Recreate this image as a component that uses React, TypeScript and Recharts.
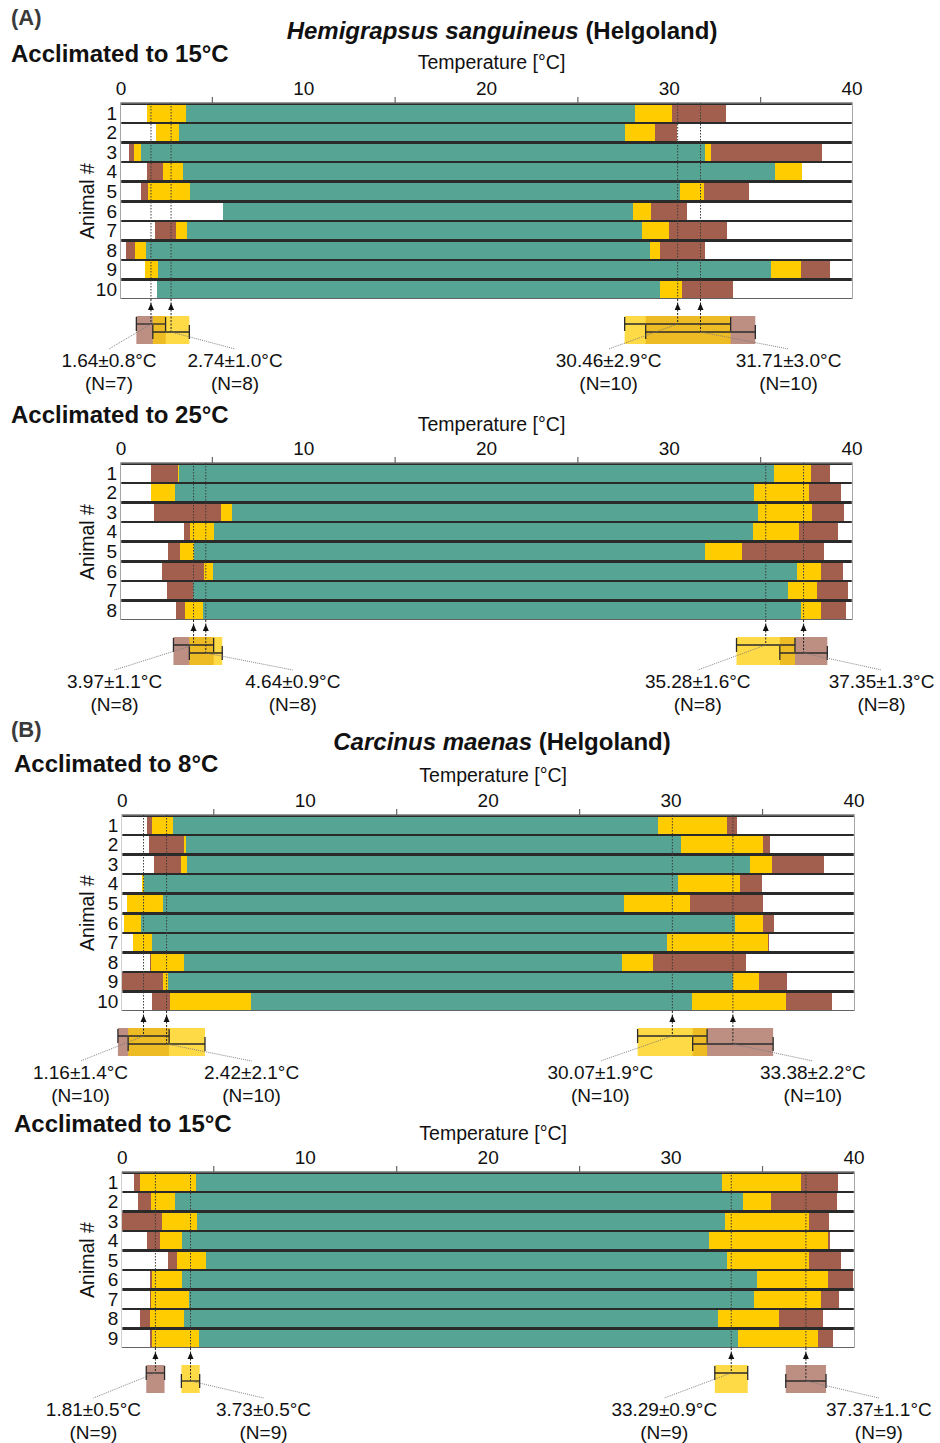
import type { ReactNode } from 'react'
import {
  Bar,
  BarChart,
  CartesianGrid,
  ComposedChart,
  ErrorBar,
  ReferenceArea,
  ReferenceDot,
  ReferenceLine,
  Scatter,
  XAxis,
  YAxis,
} from 'recharts'

// Temperature (°C) where each colour band changes, one row per animal:
// [brown from, yellow from, green from, green to, yellow to, brown to]
const hs15Bounds = [
  [1.44, 1.44, 3.56, 28.15, 30.16, 33.13],
  [1.9, 1.9, 3.19, 27.57, 29.2, 30.42],
  [0.44, 0.71, 1.08, 31.97, 32.3, 38.37],
  [1.4, 2.3, 3.39, 35.78, 37.27, 37.27],
  [1.09, 1.46, 3.77, 30.58, 31.91, 34.37],
  [5.6, 5.6, 5.6, 27.99, 28.99, 30.96],
  [1.86, 2.99, 3.59, 28.5, 30.0, 33.17],
  [0.27, 0.75, 1.39, 28.97, 29.49, 31.97],
  [1.3, 1.3, 2.01, 35.56, 37.2, 38.79],
  [1.99, 1.99, 1.99, 29.49, 30.69, 33.48],
]
const hs25Bounds = [
  [1.64, 3.1, 3.19, 35.72, 37.78, 38.79],
  [1.62, 1.62, 2.95, 34.63, 37.64, 39.42],
  [1.82, 5.45, 6.07, 34.83, 37.82, 39.57],
  [3.46, 3.77, 5.09, 34.56, 37.09, 39.21],
  [2.55, 3.24, 4.01, 31.97, 33.97, 38.46],
  [2.22, 4.52, 5.05, 36.98, 38.29, 39.53],
  [2.5, 3.96, 3.96, 36.5, 38.11, 39.79],
  [2.99, 3.48, 4.49, 37.2, 38.29, 39.66],
]
const cm8Bounds = [
  [1.33, 1.62, 2.79, 29.31, 33.08, 33.63],
  [1.48, 3.36, 3.47, 30.55, 35.01, 35.4],
  [1.73, 3.21, 3.55, 34.32, 35.5, 38.37],
  [1.06, 1.1, 1.17, 30.4, 33.77, 34.96],
  [0.27, 0.27, 2.23, 27.45, 31.02, 35.05],
  [0.09, 0.09, 1.04, 33.5, 35.05, 35.65],
  [0.57, 0.57, 1.61, 29.8, 35.3, 35.37],
  [1.51, 1.55, 3.36, 27.3, 29.03, 34.1],
  [0.0, 2.24, 2.52, 33.39, 34.83, 36.32],
  [1.61, 2.59, 7.04, 31.13, 36.27, 38.82],
]
const cm15Bounds = [
  [0.66, 0.98, 4.03, 32.79, 37.09, 39.15],
  [0.87, 1.57, 2.88, 33.95, 35.48, 39.09],
  [0.0, 2.19, 4.07, 32.93, 37.56, 38.66],
  [1.37, 2.06, 3.28, 32.08, 38.57, 38.69],
  [2.48, 2.97, 4.56, 33.05, 37.54, 39.28],
  [1.53, 1.61, 3.28, 34.69, 38.57, 39.97],
  [1.53, 1.57, 3.63, 34.54, 38.19, 39.17],
  [0.98, 1.53, 3.36, 32.55, 35.89, 38.33],
  [1.53, 1.61, 4.21, 33.68, 38.05, 38.84],
]

// summaries: cold brown, cold yellow, warm yellow, warm brown
const hs15Mean = [1.64, 2.74, 30.46, 31.71]
const hs15Sd = [0.8, 1.0, 2.9, 3.0]
const hs15N = [7, 8, 10, 10]
const hs25Mean = [3.97, 4.64, 35.28, 37.35]
const hs25Sd = [1.1, 0.9, 1.6, 1.3]
const hs25N = [8, 8, 8, 8]
const cm8Mean = [1.16, 2.42, 30.07, 33.38]
const cm8Sd = [1.4, 2.1, 1.9, 2.2]
const cm8N = [10, 10, 10, 10]
const cm15Mean = [1.81, 3.73, 33.29, 37.37]
const cm15Sd = [0.5, 0.5, 0.9, 1.1]
const cm15N = [9, 9, 9, 9]

const tempTicks = [0, 5, 10, 15, 20, 25, 30, 35, 40]

const FONT = '"Liberation Sans", Arial, Helvetica, sans-serif'
const PAGE_W = 940
const PAGE_H = 1443
const AXIS_H = 33
const TICK_W = 50
const SUMMARY_H = 100

const bandKeys = ['below', 'coldBrown', 'coldYellow', 'active', 'warmYellow', 'warmBrown', 'above']
const bandColors = ['#ffffff', '#a35f4e', '#ffcc00', '#56a594', '#ffcc00', '#a35f4e', '#ffffff']
const boxColors = ['#9e5a48', '#ffcc00', '#ffcc00', '#9e5a48']
const boxOpacity = [0.68, 0.72, 0.72, 0.68]
const boxOrder = [0, 3, 1, 2]

// vertical layout of the summary strip below each chart (px from plot bottom)
const ARROW_TIP = 4
const BOX_TOP = 17
const BOX_BOTTOM = 45
const ERR_Y = [25, 33, 25, 33]
const LEADER_END = 50
const LINE1 = 61
const LINE2 = 84

const panels = [
  {
    bounds: hs15Bounds, mean: hs15Mean, sd: hs15Sd, n: hs15N,
    heading: 'Acclimated to 15°C', headingX: 11, headingY: 54, axisTitleY: 63,
    plotLeft: 121, plotRight: 852, plotTop: 103, plotBottom: 299,
    labelDx: [-42, 64, -69, 88],
  },
  {
    bounds: hs25Bounds, mean: hs25Mean, sd: hs25Sd, n: hs25N,
    heading: 'Acclimated to 25°C', headingX: 11, headingY: 415, axisTitleY: 425,
    plotLeft: 121, plotRight: 852, plotTop: 463, plotBottom: 620,
    labelDx: [-79, 87, -68, 78],
  },
  {
    bounds: cm8Bounds, mean: cm8Mean, sd: cm8Sd, n: cm8N,
    heading: 'Acclimated to 8°C', headingX: 14, headingY: 764, axisTitleY: 776,
    plotLeft: 122.3, plotRight: 854, plotTop: 815, plotBottom: 1011,
    labelDx: [-63, 85, -72, 80],
  },
  {
    bounds: cm15Bounds, mean: cm15Mean, sd: cm15Sd, n: cm15N,
    heading: 'Acclimated to 15°C', headingX: 14, headingY: 1124, axisTitleY: 1134,
    plotLeft: 122.3, plotRight: 854, plotTop: 1172, plotBottom: 1348,
    labelDx: [-62, 73, -67, 73],
  },
]

type Panel = (typeof panels)[number]

function buildRows(bounds: number[][]) {
  return bounds.map((b, i) => {
    const edges = [0, ...b, 40]
    const row: Record<string, string | number> = { animal: String(i + 1) }
    bandKeys.forEach((key, j) => {
      row[key] = Math.max(0, edges[j + 1] - edges[j])
    })
    return row
  })
}

function buildStats(p: Panel) {
  return p.mean.map((m, i) => ({
    x: m,
    y: ERR_Y[i],
    sd: p.sd[i],
    value: `${m.toFixed(2)}±${p.sd[i].toFixed(1)}°C`,
    count: `(N=${p.n[i]})`,
    dx: p.labelDx[i],
    leaderDy: LEADER_END - ERR_Y[i],
    line1Dy: LINE1 - ERR_Y[i],
    line2Dy: LINE2 - ERR_Y[i],
  }))
}

function TempTick(props: any) {
  const { x, y, payload } = props
  const v = payload.value as number
  if (v % 10 === 0) {
    return (
      <text x={x} y={y} textAnchor="middle" fontSize={19} fill="#111" fontFamily={FONT}>
        {v}
      </text>
    )
  }
  return <line x1={x} x2={x} y1={y + 2} y2={y + 8} stroke="#666" strokeWidth={1.2} />
}

function Arrowhead(props: any) {
  const { cx, cy } = props
  return <polygon points={`${cx},${cy} ${cx - 3},${cy + 7} ${cx + 3},${cy + 7}`} fill="#111" />
}

function StatLabel(props: any) {
  const { cx, cy, payload } = props
  const lx = cx + payload.dx
  return (
    <g>
      <line
        x1={cx}
        y1={cy}
        x2={lx}
        y2={cy + payload.leaderDy}
        stroke="#777"
        strokeWidth={0.9}
        strokeDasharray="1 1"
      />
      <text x={lx} y={cy + payload.line1Dy} textAnchor="middle" dominantBaseline="central" fontSize={19} fill="#111" fontFamily={FONT}>
        {payload.value}
      </text>
      <text x={lx} y={cy + payload.line2Dy} textAnchor="middle" dominantBaseline="central" fontSize={19} fill="#111" fontFamily={FONT}>
        {payload.count}
      </text>
    </g>
  )
}

function Txt({ x, y, size, bold, center, color = '#111', children }: {
  x: number; y: number; size: number; bold?: boolean; center?: boolean; color?: string; children: ReactNode
}) {
  return (
    <div
      style={{
        position: 'absolute',
        left: x,
        top: y,
        transform: `translate(${center ? '-50%' : '0'}, -50%)`,
        fontSize: size,
        fontWeight: bold ? 700 : 400,
        lineHeight: 1,
        whiteSpace: 'nowrap',
        color,
        fontFamily: FONT,
      }}
    >
      {children}
    </div>
  )
}

function RowChart({ panel }: { panel: Panel }) {
  const rows = buildRows(panel.bounds)
  const plotH = panel.plotBottom - panel.plotTop
  return (
    <div style={{ position: 'absolute', left: 0, top: panel.plotTop - AXIS_H }}>
      <BarChart
        width={PAGE_W}
        height={AXIS_H + plotH}
        data={rows}
        layout="vertical"
        barCategoryGap={1.5}
        margin={{ top: 0, bottom: 0, left: panel.plotLeft - TICK_W, right: PAGE_W - panel.plotRight }}
      >
        <CartesianGrid fill="#2a2a2a" stroke="none" horizontal={false} vertical={false} />
        <XAxis
          type="number"
          orientation="top"
          domain={[0, 40]}
          ticks={tempTicks}
          interval={0}
          height={AXIS_H}
          axisLine={false}
          tickLine={false}
          tickSize={6}
          tickMargin={2}
          tick={(p: any) => <TempTick {...p} />}
        />
        <YAxis
          type="category"
          dataKey="animal"
          width={TICK_W}
          interval={0}
          axisLine={false}
          tickLine={false}
          tickSize={0}
          tickMargin={4}
          tick={{ fontSize: 19, fill: '#111', fontFamily: FONT }}
        />
        {bandKeys.map((key, i) => (
          <Bar
            key={key}
            dataKey={key}
            stackId="bands"
            fill={bandColors[i]}
            isAnimationActive={false}
            shapeRendering="crispEdges"
          />
        ))}
        {panel.mean.map((m) => (
          <ReferenceLine key={m} x={m} stroke="#3c3c3c" strokeWidth={1} strokeDasharray="1.5 1.5" />
        ))}
        <ReferenceArea x1={0} x2={40} fill="none" stroke="#777" strokeWidth={1.3} ifOverflow="visible" />
      </BarChart>
    </div>
  )
}

function SummaryChart({ panel }: { panel: Panel }) {
  const stats = buildStats(panel)
  const pxPerDeg = (panel.plotRight - panel.plotLeft) / 40
  const domain = [-panel.plotLeft / pxPerDeg, 40 + (PAGE_W - panel.plotRight) / pxPerDeg]
  return (
    <div style={{ position: 'absolute', left: 0, top: panel.plotBottom }}>
      <ComposedChart width={PAGE_W} height={SUMMARY_H} data={stats} margin={{ top: 0, right: 0, bottom: 0, left: 0 }}>
        <XAxis type="number" dataKey="x" domain={domain} hide height={0} />
        <YAxis type="number" dataKey="y" domain={[0, SUMMARY_H]} reversed hide width={0} />
        {boxOrder.map((i) => (
          <ReferenceArea
            key={`box${i}`}
            x1={stats[i].x - stats[i].sd}
            x2={stats[i].x + stats[i].sd}
            y1={BOX_TOP}
            y2={BOX_BOTTOM}
            fill={boxColors[i]}
            fillOpacity={boxOpacity[i]}
            stroke="none"
            ifOverflow="visible"
          />
        ))}
        {stats.map((s) => (
          <ReferenceLine
            key={`stem${s.x}`}
            segment={[{ x: s.x, y: 0 }, { x: s.x, y: s.y }]}
            stroke="#222"
            strokeWidth={1}
            strokeDasharray="2 1.5"
          />
        ))}
        {stats.map((s) => (
          <ReferenceDot key={`arrow${s.x}`} x={s.x} y={ARROW_TIP} r={3} shape={(p: any) => <Arrowhead {...p} />} />
        ))}
        <Scatter dataKey="y" data={stats} isAnimationActive={false} shape={(p: any) => <StatLabel {...p} />}>
          <ErrorBar dataKey="sd" direction="x" width={7} stroke="#2a2a2a" strokeWidth={1.3} />
        </Scatter>
      </ComposedChart>
    </div>
  )
}

export default function App() {
  return (
    <div
      style={{
        position: 'absolute',
        left: 0,
        top: 0,
        width: PAGE_W,
        height: PAGE_H,
        background: '#fff',
        fontFamily: FONT,
        overflow: 'hidden',
      }}
    >
      <Txt x={11} y={18} size={22} bold color="#3a3a3a">(A)</Txt>
      <Txt x={502} y={31} size={24} bold center>
        <i>Hemigrapsus sanguineus</i> (Helgoland)
      </Txt>
      <Txt x={11} y={730} size={22} bold color="#3a3a3a">(B)</Txt>
      <Txt x={502} y={742} size={24} bold center>
        <i>Carcinus maenas</i> (Helgoland)
      </Txt>
      {panels.map((p) => (
        <div key={p.heading + p.plotTop}>
          <Txt x={p.headingX} y={p.headingY} size={24} bold>{p.heading}</Txt>
          <Txt x={(p.plotLeft + p.plotRight) / 2 + 5} y={p.axisTitleY} size={19.5} center>
            Temperature [°C]
          </Txt>
          <div
            style={{
              position: 'absolute',
              left: 88,
              top: (p.plotTop + p.plotBottom) / 2,
              transform: 'translate(-50%, -50%) rotate(-90deg)',
              fontSize: 19.5,
              lineHeight: 1,
              whiteSpace: 'nowrap',
              color: '#111',
              fontFamily: FONT,
            }}
          >
            Animal #
          </div>
          <RowChart panel={p} />
          <SummaryChart panel={p} />
        </div>
      ))}
    </div>
  )
}
